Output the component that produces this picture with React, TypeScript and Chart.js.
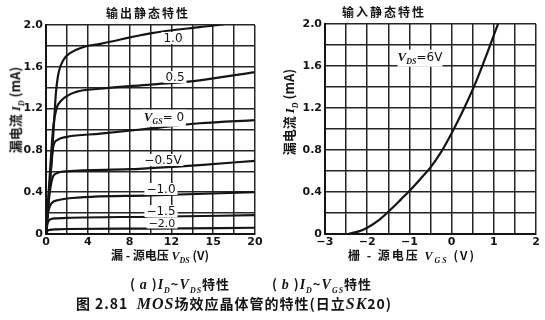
import React, { useEffect, useRef } from "react";
import { Chart, registerables } from "chart.js";
Chart.register(...registerables);

// ---------- Output characteristics (ID vs VDS) ----------
const vgsCurveNames = ["1.0", "0.5", "0", "-0.5", "-1.0", "-1.5", "-2.0"];
const vdsA = [0, 0.3, 0.6, 0.8, 0.95, 1.2, 1.7, 2.3, 3.6, 5.2, 10, 14.7, 16.5, 20];
const idA = [0, 0.4, 0.8, 1.12, 1.35, 1.54, 1.67, 1.73, 1.79, 1.82, 1.92, 1.98, 2.0, 2.06];
const vdsB = [0, 0.35, 0.7, 1.0, 1.5, 2.9, 5.2, 10, 14.7, 20];
const idB = [0, 0.55, 1.03, 1.2, 1.28, 1.36, 1.39, 1.43, 1.47, 1.55];
const vdsC = [0, 0.3, 0.55, 0.7, 1.1, 2, 5.2, 10, 14.7, 20];
const idC = [0, 0.4, 0.7, 0.84, 0.9, 0.93, 0.96, 1.01, 1.06, 1.09];
const vdsD = [0, 0.3, 0.6, 1.0, 2, 8, 14.7, 20];
const idD = [0, 0.35, 0.53, 0.58, 0.6, 0.62, 0.66, 0.7];
const vdsE = [0, 0.2, 0.5, 1.2, 2, 10, 20];
const idE = [0, 0.2, 0.29, 0.325, 0.34, 0.37, 0.4];
const vdsF = [0, 0.15, 0.4, 1.0, 2, 10, 20];
const idF = [0, 0.1, 0.14, 0.15, 0.155, 0.165, 0.18];
const vdsG = [0, 0.15, 0.4, 1.0, 2, 10, 20];
const idG = [0, 0.03, 0.04, 0.045, 0.048, 0.052, 0.06];
const xTicksA = ["0", "4", "8", "12", "15", "20"];
const yTicks = ["0", "0.4", "0.8", "1.2", "1.6", "2.0"];

// ---------- Input characteristic (ID vs VGS at VDS = 6V) ----------
const vgsIn = [-2.45, -2.2, -2.0, -1.7, -1.4, -1.2, -1.0, -0.75, -0.5, -0.25, 0, 0.3, 0.6, 0.85, 1.1];
const idIn = [0, 0.025, 0.06, 0.14, 0.25, 0.33, 0.41, 0.52, 0.635, 0.78, 0.96, 1.2, 1.47, 1.73, 2.0];
const xTicksB = ["−3", "−2", "−1", "0", "1", "2"];

const INK = "#151515";
const GRID = "#262626";
const TICKFONT = { family: "'DejaVu Sans'", size: 11, weight: "bold" as const };

function pts(xs: number[], ys: number[]) {
  return xs.map((x, i) => ({ x, y: ys[i] }));
}

function lineDs(xs: number[], ys: number[], label: string) {
  return {
    label,
    data: pts(xs, ys),
    borderColor: INK,
    borderWidth: 2.2,
    pointRadius: 0,
    fill: false,
    cubicInterpolationMode: "monotone" as const,
  };
}

function makeOptions(xmin: number, xmax: number, xstep: number, xLabelFn: (v: number) => string, pad: any) {
  return {
    responsive: false,
    animation: false as const,
    layout: { padding: pad },
    plugins: { legend: { display: false }, tooltip: { enabled: false } },
    scales: {
      x: {
        type: "linear" as const,
        min: xmin,
        max: xmax,
        ticks: { stepSize: xstep, color: INK, font: TICKFONT, padding: 2, maxRotation: 0, autoSkip: false, callback: (v: any) => xLabelFn(Number(v)) },
        grid: { color: GRID, lineWidth: 1.5, drawTicks: false },
        border: { color: INK, width: 2 },
        afterFit: (s: any) => { s.height = 20; },
      },
      y: {
        type: "linear" as const,
        min: 0,
        max: 2,
        ticks: {
          stepSize: 0.2, color: INK, font: TICKFONT, padding: 3, autoSkip: false,
          callback: (v: any) => {
            const k = Number(v) / 0.4;
            const r = Math.round(k);
            return Math.abs(k - r) < 1e-6 ? yTicks[r] : "";
          },
        },
        grid: { color: GRID, lineWidth: 1.5, drawTicks: false },
        border: { color: INK, width: 2 },
        afterFit: (s: any) => { s.width = 30; },
      },
    },
  };
}

const abs: React.CSSProperties = { position: "absolute", whiteSpace: "nowrap", color: INK, lineHeight: 1 };
const cjk = "'Noto Sans CJK SC', sans-serif";
const serifI: React.CSSProperties = { fontFamily: "'Liberation Serif', serif", fontStyle: "italic" };

function T(props: { x: number; y: number; children: any; style?: React.CSSProperties; rot?: boolean }) {
  return (
    <div
      style={{
        ...abs,
        left: props.x,
        top: props.y,
        transform: `translate(-50%,-50%)${props.rot ? " rotate(-90deg)" : ""}`,
        ...props.style,
      }}
    >
      {props.children}
    </div>
  );
}

const curveLbl: React.CSSProperties = { fontFamily: "'DejaVu Sans'", fontSize: 12, background: "#fff", padding: "0 2px" };
const sub8: React.CSSProperties = { fontSize: 8 };

export default function App() {
  const leftRef = useRef<HTMLCanvasElement>(null);
  const rightRef = useRef<HTMLCanvasElement>(null);

  useEffect(() => {
    const allX = [vdsA, vdsB, vdsC, vdsD, vdsE, vdsF, vdsG];
    const allY = [idA, idB, idC, idD, idE, idF, idG];
    const c1 = new Chart(leftRef.current!, {
      type: "line",
      data: { datasets: allX.map((xs, i) => lineDs(xs, allY[i], vgsCurveNames[i])) },
      options: makeOptions(0, 20, 2, (v) => (v % 4 === 0 ? xTicksA[v / 4] : ""), { left: 16, right: 15, top: 25, bottom: 66 }) as any,
    });
    const c2 = new Chart(rightRef.current!, {
      type: "line",
      data: { datasets: [lineDs(vgsIn, idIn, "VDS=6V")] },
      options: makeOptions(-3, 2, 0.5, (v) => (Number.isInteger(v) ? xTicksB[v + 3] : ""), { left: 25, right: 9, top: 24, bottom: 66 }) as any,
    });
    return () => {
      c1.destroy();
      c2.destroy();
    };
  }, []);

  return (
    <div style={{ position: "fixed", left: 0, top: 0, width: 545, height: 320, background: "#fff", overflow: "hidden" }}>
      <canvas ref={leftRef} width={270} height={320} style={{ position: "absolute", left: 0, top: 0 }} />
      <canvas ref={rightRef} width={275} height={320} style={{ position: "absolute", left: 270, top: 0 }} />

      {/* chart titles */}
      <T x={148} y={13} style={{ fontFamily: cjk, fontSize: 12, fontWeight: 700, letterSpacing: 2 }}>输出静态特性</T>
      <T x={384} y={12} style={{ fontFamily: cjk, fontSize: 12, fontWeight: 700, letterSpacing: 2 }}>输入静态特性</T>

      {/* y titles */}
      <T x={17} y={110} rot style={{ fontFamily: cjk, fontSize: 13, fontWeight: 700 }}>
        漏电流 <span style={serifI}>I<sub style={sub8}>D</sub></span> (mA)
      </T>
      <T x={291} y={112} rot style={{ fontFamily: cjk, fontSize: 13, fontWeight: 700 }}>
        漏电流 <span style={serifI}>I<sub style={sub8}>D</sub></span> (mA)
      </T>

      {/* x titles */}
      <T x={160} y={257} style={{ fontFamily: cjk, fontSize: 12, fontWeight: 700 }}>
        漏 - 源电压 <span style={serifI}>V<sub style={sub8}>DS</sub></span> (V)
      </T>
      <T x={412} y={257} style={{ fontFamily: cjk, fontSize: 12, fontWeight: 700, letterSpacing: 2 }}>
        栅 - 源电压 <span style={serifI}>V<sub style={sub8}>GS</sub></span> (V)
      </T>

      {/* curve labels, output chart */}
      <T x={173} y={38} style={curveLbl}>1.0</T>
      <T x={175} y={77} style={curveLbl}>0.5</T>
      <T x={164} y={118} style={curveLbl}>
        <span style={{ ...serifI, fontWeight: 700, fontSize: 13 }}>V<sub style={sub8}>GS</sub></span>= 0
      </T>
      <T x={163} y={160} style={curveLbl}>−0.5V</T>
      <T x={161} y={189} style={curveLbl}>−1.0</T>
      <T x={161} y={211} style={curveLbl}>−1.5</T>
      <T x={162} y={223} style={{ ...curveLbl, fontSize: 11 }}>−2.0</T>

      {/* input chart label */}
      <T x={420} y={58} style={{ ...curveLbl, padding: 0 }}>
        <span style={{ ...serifI, fontWeight: 700, fontSize: 13 }}>V<sub style={sub8}>DS</sub></span>=6V
      </T>

      {/* captions */}
      <T x={180} y={286} style={{ fontFamily: cjk, fontSize: 13, fontWeight: 700, letterSpacing: 1 }}>
        ( <span style={{ ...serifI, fontSize: 14 }}>a</span> )<span style={{ ...serifI, fontSize: 14 }}>I<sub style={sub8}>D</sub></span>~<span style={{ ...serifI, fontSize: 14 }}>V<sub style={sub8}>DS</sub></span>特性
      </T>
      <T x={322} y={286} style={{ fontFamily: cjk, fontSize: 13, fontWeight: 700, letterSpacing: 1 }}>
        ( <span style={{ ...serifI, fontSize: 14 }}>b</span> )<span style={{ ...serifI, fontSize: 14 }}>I<sub style={sub8}>D</sub></span>~<span style={{ ...serifI, fontSize: 14 }}>V<sub style={sub8}>GS</sub></span>特性
      </T>
      <T x={234} y={304} style={{ fontFamily: cjk, fontSize: 14, fontWeight: 700, letterSpacing: 1 }}>
        图 2.81&nbsp;&nbsp;<span style={{ ...serifI, fontSize: 16 }}>MOS</span>场效应晶体管的特性(日立<span style={{ ...serifI, fontSize: 16 }}>SK</span>20)
      </T>
    </div>
  );
}
